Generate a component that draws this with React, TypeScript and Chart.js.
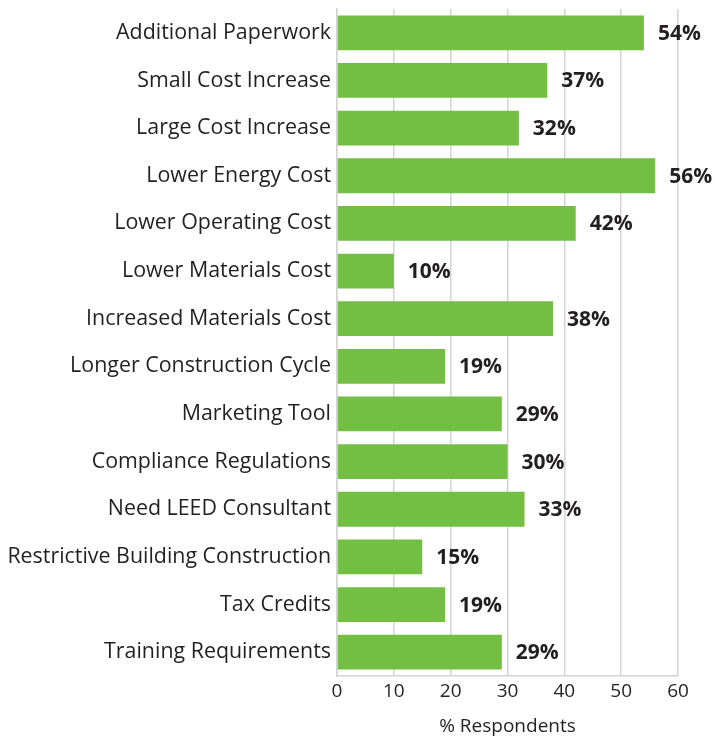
import React, { useEffect, useRef } from "react";
import { Chart, registerables } from "chart.js";

Chart.register(...registerables);

const categories = [
  "Additional Paperwork",
  "Small Cost Increase",
  "Large Cost Increase",
  "Lower Energy Cost",
  "Lower Operating Cost",
  "Lower Materials Cost",
  "Increased Materials Cost",
  "Longer Construction Cycle",
  "Marketing Tool",
  "Compliance Regulations",
  "Need LEED Consultant",
  "Restrictive Building Construction",
  "Tax Credits",
  "Training Requirements",
];

const respondents = [54, 37, 32, 56, 42, 10, 38, 19, 29, 30, 33, 15, 19, 29];

const xTicks = [0, 10, 20, 30, 40, 50, 60];

const FONT = "'Open Sans', 'Noto Sans', sans-serif";
const TEXT = "#231f20";
const GRID = "#d3d3d3";

const valueLabels = {
  id: "valueLabels",
  afterDatasetsDraw(chart: any) {
    const ctx = chart.ctx;
    const meta = chart.getDatasetMeta(0);
    ctx.save();
    ctx.font = `bold 21px ${FONT}`;
    ctx.fillStyle = TEXT;
    ctx.textAlign = "left";
    ctx.textBaseline = "middle";
    meta.data.forEach((bar: any, i: number) => {
      ctx.fillText(`${respondents[i]}%`, bar.x + 14, bar.y + 1);
    });
    ctx.restore();
  },
};

export default function App() {
  const ref = useRef<HTMLCanvasElement | null>(null);
  useEffect(() => {
    if (!ref.current) return;
    const chart = new Chart(ref.current, {
      type: "bar",
      data: {
        labels: categories,
        datasets: [
          {
            data: respondents,
            backgroundColor: "#72bf44",
            borderWidth: 0,
            categoryPercentage: 0.73,
            barPercentage: 1,
          },
        ],
      },
      options: {
        indexAxis: "y",
        animation: false,
        responsive: true,
        maintainAspectRatio: false,
        layout: { padding: { top: 9, right: 37, left: 0, bottom: 0 } },
        plugins: {
          legend: { display: false },
          tooltip: { enabled: false },
          title: { display: false },
        },
        scales: {
          x: {
            min: 0,
            max: 60,
            afterBuildTicks: (scale: any) => {
              scale.ticks = xTicks.map((v) => ({ value: v }));
            },
            grid: {
              color: GRID,
              lineWidth: 1.5,
              drawTicks: false,
            },
            border: { display: true, color: GRID, width: 1.5 },
            ticks: {
              color: TEXT,
              font: { family: FONT, size: 19 },
              padding: 4,
            },
            title: {
              display: true,
              text: "% Respondents",
              color: TEXT,
              font: { family: FONT, size: 19 },
              padding: { top: 8, bottom: 0 },
            },
            afterFit: (scale: any) => {
              scale.height = 62;
            },
          },
          y: {
            grid: { display: false, drawTicks: false },
            border: { display: true, color: GRID, width: 1.5 },
            ticks: {
              color: TEXT,
              font: { family: FONT, size: 21.4 },
              padding: 6,
              autoSkip: false,
            },
            afterFit: (scale: any) => {
              scale.width = 337;
              scale.paddingTop = 0;
              scale.paddingBottom = 0;
            },
          },
        },
      },
      plugins: [valueLabels],
    });
    return () => chart.destroy();
  }, []);
  return (
    <div style={{ position: "fixed", left: 0, top: 0, width: 715, height: 738 }}>
      <canvas ref={ref} />
    </div>
  );
}
